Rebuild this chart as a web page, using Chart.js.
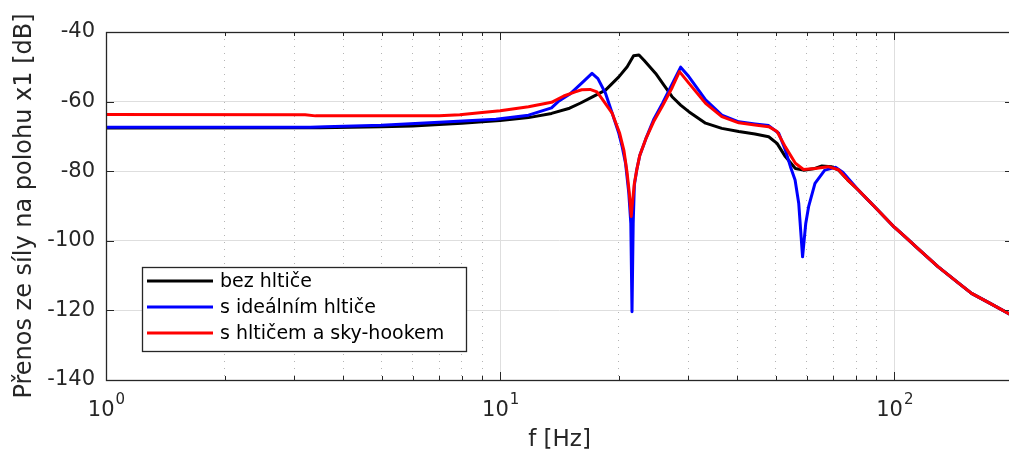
<!DOCTYPE html>
<html>
<head>
<meta charset="utf-8">
<title>Přenos ze síly na polohu x1</title>
<script src="https://cdn.jsdelivr.net/npm/chart.js@4.4.1/dist/chart.umd.min.js"></script>
<style>
    html, body {
        margin: 0;
        padding: 0;
        background: #fff;
        overflow: hidden;
    }

    /* a bit wider than the window: the 200 Hz edge is cut off like in the figure */
    #transferChart {
        display: block;
    }
</style>
</head>
<body>
<canvas id="transferChart" width="1016" height="455"></canvas>
<script>

const FONT = "'DejaVu Sans', sans-serif"
const AXIS_COLOR = "#262626"

// bez hltiče
const freqBlack = [1, 3.5, 5, 6, 7, 8, 9, 10, 11.8, 13.5, 15, 16, 17.1, 18.5, 20, 21, 21.8, 22.5, 23.2, 24.8, 26, 27.3, 28.7, 30.1, 33.2, 36.5, 40.3, 44.3, 48, 50.4, 52.9, 56.1, 58.8, 62.9, 65.5, 69.2, 72.2, 76, 81, 90, 100, 106.4, 115, 129, 145, 157, 175, 200]
const dbBlack = [-67.6, -67.5, -67.2, -67.0, -66.6, -66.2, -65.8, -65.4, -64.6, -63.4, -61.9, -60.4, -58.7, -56.7, -52.9, -50.0, -46.8, -46.6, -48.2, -51.9, -55.2, -58.6, -61.0, -62.9, -66.2, -67.7, -68.6, -69.3, -70.1, -72.0, -75.8, -79.2, -79.7, -79.2, -78.5, -78.7, -79.7, -82.4, -85.4, -90.7, -96.1, -98.8, -102.3, -107.4, -112.0, -115.1, -118.0, -121.6]

// s ideálním hltiče
const freqBlue = [1, 3.3, 3.6, 5, 7, 9.76, 11.8, 13.5, 14.1, 15, 16.1, 17.1, 17.7, 18.5, 19.25, 20, 20.4, 20.8, 21.2, 21.45, 21.6, 21.75, 21.9, 22.2, 22.6, 23.4, 24.5, 25.8, 27.3, 28.7, 30.1, 33.2, 36.5, 40.3, 44.3, 48, 50.9, 52.9, 54.5, 56, 57.2, 58.5, 59.6, 60.6, 62.9, 66.6, 70.9, 74, 81, 90, 100, 106.4, 115, 129, 145, 157, 175, 200]
const dbBlue = [-67.4, -67.4, -67.2, -66.8, -65.9, -65.1, -63.9, -61.8, -59.8, -57.9, -54.7, -51.9, -53.4, -57.6, -63.4, -69.1, -73.0, -77.7, -86.3, -95.0, -120.4, -95.0, -84.0, -79.7, -75.5, -70.8, -65.2, -60.5, -55.0, -50.1, -52.8, -59.5, -63.9, -65.8, -66.4, -66.9, -69.1, -73.9, -78.7, -82.5, -89.2, -104.6, -95.0, -90.2, -83.5, -79.7, -78.9, -80.3, -85.4, -90.7, -96.1, -98.8, -102.3, -107.4, -112.0, -115.1, -118.0, -121.6]

// s hltičem a sky-hookem
const freqRed = [1, 3.2, 3.4, 5, 7, 7.9, 9, 10, 11.8, 13.5, 14.5, 15.5, 16.1, 16.9, 17.6, 18.1, 19.25, 20.1, 20.6, 21.0, 21.25, 21.5, 21.7, 21.9, 22.2, 22.6, 23.4, 24.5, 25.8, 27.3, 28.5, 30.1, 33.2, 36.5, 40.3, 44.3, 48, 50.4, 52.9, 56.1, 58.8, 62.9, 67.9, 72.2, 76, 81, 90, 100, 106.4, 115, 129, 145, 157, 175, 200]
const dbRed = [-63.7, -63.75, -64.1, -64.1, -64.1, -63.8, -63.1, -62.6, -61.5, -60.2, -58.4, -57.2, -56.6, -56.5, -57.2, -59.1, -63.4, -69.1, -74.0, -80.6, -86.0, -93.0, -88.0, -83.5, -79.7, -75.5, -70.8, -65.8, -61.3, -56.0, -51.4, -54.7, -60.5, -64.3, -66.1, -66.7, -67.2, -68.6, -73.0, -77.7, -79.5, -79.2, -78.7, -79.6, -82.4, -85.4, -90.7, -96.1, -98.8, -102.3, -107.4, -112.0, -115.1, -118.0, -121.6]

const seriesLabels = ["bez hltiče", "s ideálním hltiče", "s hltičem a sky-hookem"]
const seriesColors = ["#000000", "#0000ff", "#ff0000"]

const xTickValues = [1, 2, 3, 4, 5, 6, 7, 8, 9, 10, 20, 30, 40, 50, 60, 70, 80, 90, 100, 200]
const xTickExponents = { 1: "0", 10: "1", 100: "2" }
const yTickValues = [-140, -120, -100, -80, -60, -40]

function toPoints(freqs, values) {

    return freqs.map((f, i) => ({ x: f, y: values[i] }))
}

// MATLAB style box with inward ticks on all four sides + 10^n labels
const boxTicksPlugin = {
    id: "boxTicks",

    afterDatasetsDraw(chart) {

        const { ctx, chartArea: a, scales } = chart

        ctx.save()
        ctx.strokeStyle = AXIS_COLOR
        ctx.lineWidth = 1
        ctx.beginPath()

        yTickValues.forEach(v => {
            const py = Math.round(scales.y.getPixelForValue(v)) + 0.5
            ctx.moveTo(a.left, py)
            ctx.lineTo(a.left + 8, py)
            ctx.moveTo(a.right, py)
            ctx.lineTo(a.right - 8, py)
        })

        xTickValues.forEach(v => {
            const px = Math.round(scales.x.getPixelForValue(v)) + 0.5
            const len = xTickExponents[v] ? 8 : 4
            ctx.moveTo(px, a.bottom)
            ctx.lineTo(px, a.bottom - len)
            ctx.moveTo(px, a.top)
            ctx.lineTo(px, a.top + len)
        })

        ctx.stroke()

        ctx.lineWidth = 1.3
        ctx.strokeRect(
            Math.round(a.left) + 0.5,
            Math.round(a.top) + 0.5,
            Math.round(a.right - a.left),
            Math.round(a.bottom - a.top)
        )

        // decade labels: "10" with a raised exponent
        ctx.fillStyle = AXIS_COLOR
        ctx.textBaseline = "alphabetic"
        ctx.textAlign = "left"

        Object.keys(xTickExponents).forEach(key => {

            const px = scales.x.getPixelForValue(Number(key))
            const exp = xTickExponents[key]

            ctx.font = "21px " + FONT
            const baseW = ctx.measureText("10").width
            ctx.font = "15px " + FONT
            const expW = ctx.measureText(exp).width

            const startX = px - (baseW + expW) / 2
            const baseY = a.bottom + 36

            ctx.font = "21px " + FONT
            ctx.fillText("10", startX, baseY)
            ctx.font = "15px " + FONT
            ctx.fillText(exp, startX + baseW + 1, baseY - 12)
        })

        ctx.restore()
    }
}

// legend box placed inside the axes, lower left
const innerLegendPlugin = {
    id: "innerLegend",

    afterDraw(chart) {

        const { ctx, chartArea: a } = chart

        const left = Math.round(a.left) + 36
        const top = Math.round(a.top) + 235
        const width = 324
        const height = 84

        ctx.save()
        ctx.fillStyle = "#fff"
        ctx.fillRect(left, top, width, height)
        ctx.strokeStyle = AXIS_COLOR
        ctx.lineWidth = 1.3
        ctx.strokeRect(left + 0.5, top + 0.5, width, height)

        ctx.font = "19px " + FONT
        ctx.textBaseline = "middle"
        ctx.textAlign = "left"

        chart.data.datasets.forEach((ds, i) => {

            const y = top + 14 + i * 26

            ctx.strokeStyle = ds.borderColor
            ctx.lineWidth = 3
            ctx.beginPath()
            ctx.moveTo(left + 5, y)
            ctx.lineTo(left + 71, y)
            ctx.stroke()

            ctx.fillStyle = "#000"
            ctx.fillText(ds.label, left + 78, y + 1)
        })

        ctx.restore()
    }
}

const transferChart = new Chart(
    document.getElementById("transferChart"),
    {
        type: "line",

        data: {
            datasets: [
                {
                    label: seriesLabels[0],
                    data: toPoints(freqBlack, dbBlack),
                    borderColor: seriesColors[0],
                    order: 3
                },
                {
                    label: seriesLabels[1],
                    data: toPoints(freqBlue, dbBlue),
                    borderColor: seriesColors[1],
                    order: 2
                },
                {
                    label: seriesLabels[2],
                    data: toPoints(freqRed, dbRed),
                    borderColor: seriesColors[2],
                    order: 1
                }
            ]
        },

        options: {
            responsive: false,
            animation: false,
            events: [],

            layout: {
                padding: { top: 32, right: 1, left: 0, bottom: 0 }
            },

            elements: {
                line: {
                    borderWidth: 3,
                    tension: 0,
                    borderJoinStyle: "round",
                    borderCapStyle: "round",
                    fill: false
                },
                point: {
                    radius: 0
                }
            },

            plugins: {
                legend: { display: false },
                tooltip: { enabled: false }
            },

            scales: {
                x: {
                    type: "logarithmic",
                    min: 1,
                    max: 200,
                    afterBuildTicks: scale => {
                        scale.ticks = xTickValues.map(v => ({ value: v, major: !!xTickExponents[v] }))
                    },
                    afterFit: scale => {
                        scale.height = 75
                    },
                    ticks: {
                        autoSkip: false,
                        maxRotation: 0,
                        callback: () => ""
                    },
                    grid: {
                        drawTicks: false,
                        lineWidth: 1,
                        color: ctx => xTickExponents[ctx.tick.value] ? "#dedede" : "#b4b4b4"
                    },
                    border: {
                        display: false,
                        dash: ctx => xTickExponents[ctx.tick.value] ? [] : [1, 6]
                    },
                    title: {
                        display: true,
                        text: "f [Hz]",
                        color: AXIS_COLOR,
                        font: { family: FONT, size: 23 },
                        padding: { top: 0, bottom: 1 }
                    }
                },

                y: {
                    type: "linear",
                    min: -140,
                    max: -40,
                    afterBuildTicks: scale => {
                        scale.ticks = yTickValues.map(v => ({ value: v }))
                    },
                    afterFit: scale => {
                        scale.width = 106
                    },
                    ticks: {
                        padding: 11,
                        color: AXIS_COLOR,
                        font: { family: FONT, size: 21 }
                    },
                    grid: {
                        drawTicks: false,
                        lineWidth: 1,
                        color: "#dedede"
                    },
                    border: {
                        display: false
                    },
                    title: {
                        display: true,
                        text: "Přenos ze síly na polohu x1 [dB]",
                        color: AXIS_COLOR,
                        font: { family: FONT, size: 24 },
                        padding: { top: 10, bottom: 0 }
                    }
                }
            }
        },

        plugins: [boxTicksPlugin, innerLegendPlugin]
    }
)
</script>
</body>
</html>
